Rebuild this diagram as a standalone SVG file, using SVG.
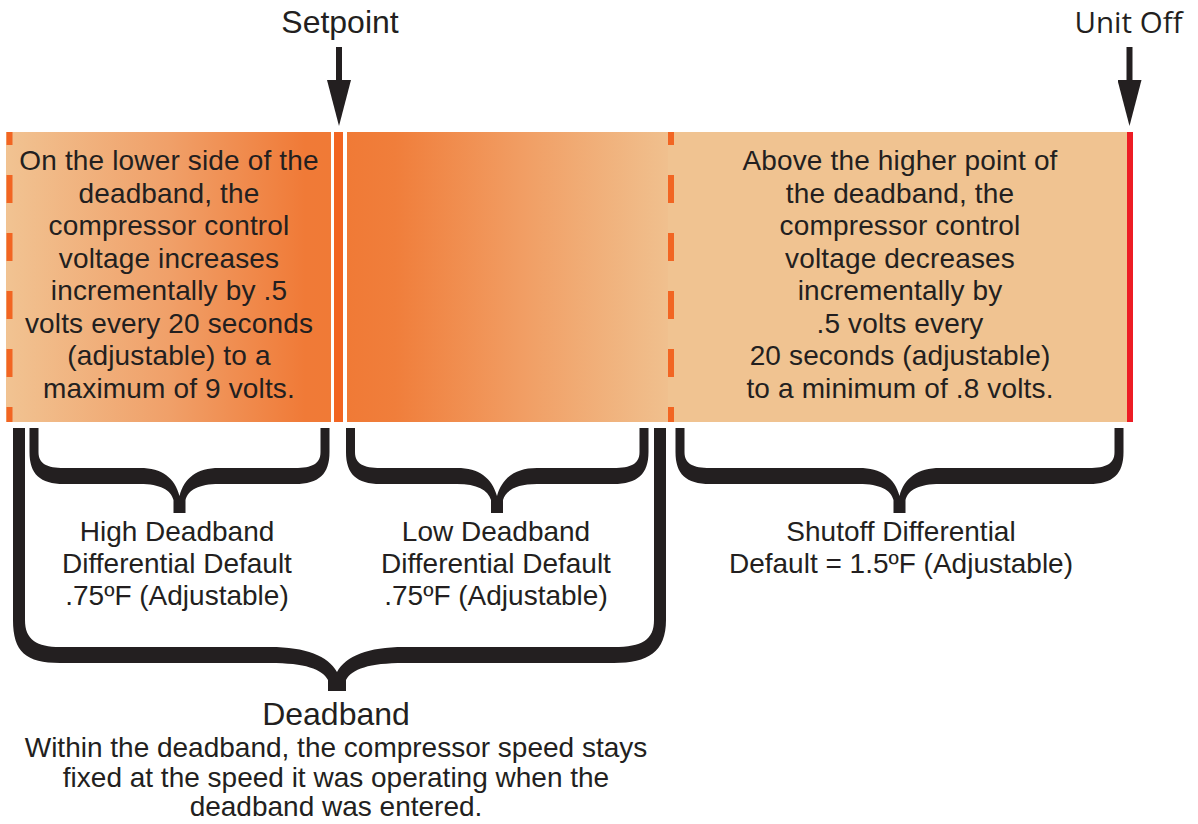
<svg xmlns="http://www.w3.org/2000/svg" width="1198" height="824" viewBox="0 0 1198 824">
<defs>
<linearGradient id="gLeft" x1="6" y1="0" x2="331" y2="0" gradientUnits="userSpaceOnUse">
<stop offset="0" stop-color="#f1c392"/>
<stop offset="0.5" stop-color="#f0a069"/>
<stop offset="0.92" stop-color="#f07a37"/>
<stop offset="1" stop-color="#f07a36"/>
</linearGradient>
<linearGradient id="gMid" x1="347" y1="0" x2="668" y2="0" gradientUnits="userSpaceOnUse">
<stop offset="0" stop-color="#f07a36"/>
<stop offset="0.15" stop-color="#f07e3b"/>
<stop offset="0.55" stop-color="#f19e64"/>
<stop offset="1" stop-color="#f0c08e"/>
</linearGradient>
<marker id="ah" viewBox="0 0 46 24" refX="1" refY="12" markerWidth="46" markerHeight="24" markerUnits="userSpaceOnUse" orient="auto">
<path d="M0,0 L46,12 L0,24 Z" fill="#231f20"/>
</marker>
<style>
.t{font-family:"Liberation Sans",Arial,Helvetica,sans-serif;fill:#231f20;text-anchor:middle}
.bar{font-size:28px;letter-spacing:0.15px}
.lbl{font-size:28px}
.brace{fill:#231f20}
.dash{stroke:#f26522;stroke-width:6;stroke-dasharray:28 30;stroke-dashoffset:15;fill:none}
</style>
</defs>

<g id="bar">
<rect x="6" y="132" width="325" height="290" fill="url(#gLeft)"/>
<rect x="331" y="132" width="16" height="290" fill="#ffffff"/>
<rect x="334" y="132" width="9" height="290" fill="#f26522"/>
<rect x="347" y="132" width="321" height="290" fill="url(#gMid)"/>
<rect x="668" y="132" width="460" height="290" fill="#f0c391"/>
<rect x="1127" y="132" width="6" height="290" fill="#ed1c24"/>
<line class="dash" x1="9.5" y1="132" x2="9.5" y2="422"/>
<line class="dash" x1="671" y1="132" x2="671" y2="422"/>
</g>

<g id="setpoint">
<text class="t" x="340" y="33" font-size="32">Setpoint</text>
</g>
<g id="unit-off">
<text x="1128.5" y="33" font-size="29.5" font-family="'Open Sans','Noto Sans',sans-serif" fill="#231f20" text-anchor="middle">Unit Off</text>
</g>

<g id="left-zone">
<text class="t bar" x="169" y="170">On the lower side of the</text>
<text class="t bar" x="169" y="202.5">deadband, the</text>
<text class="t bar" x="169" y="235">compressor control</text>
<text class="t bar" x="169" y="267.5">voltage increases</text>
<text class="t bar" x="169" y="300">incrementally by .5</text>
<text class="t bar" x="169" y="332.5">volts every 20 seconds</text>
<text class="t bar" x="169" y="365">(adjustable) to a</text>
<text class="t bar" x="169" y="397.5">maximum of 9 volts.</text>
</g>

<g id="right-zone">
<text class="t bar" x="900" y="170">Above the higher point of</text>
<text class="t bar" x="900" y="202.5">the deadband, the</text>
<text class="t bar" x="900" y="235">compressor control</text>
<text class="t bar" x="900" y="267.5">voltage decreases</text>
<text class="t bar" x="900" y="300">incrementally by</text>
<text class="t bar" x="900" y="332.5">.5 volts every</text>
<text class="t bar" x="900" y="365">20 seconds (adjustable)</text>
<text class="t bar" x="900" y="397.5">to a minimum of .8 volts.</text>
</g>

<g id="connectors">
<line x1="339" y1="47" x2="339" y2="81" stroke="#231f20" stroke-width="6" marker-end="url(#ah)"/>
<line x1="1129.5" y1="47" x2="1129.5" y2="81" stroke="#231f20" stroke-width="6" marker-end="url(#ah)"/>
</g>

<g id="brace-high">
<path class="brace" d="M29.5,428 L29.5,452 C29.5,474 40,484 64,484 L140,484 C160,484 171,490 173.5,500 L173.5,513 L185.5,513 L185.5,500 C188,490 199,484 219,484 L295,484 C319,484 329.5,474 329.5,452 L329.5,428 L320.5,428 L320.5,452 C320.5,464 312,468 295,468 L219,468 C197,468 184,478 179.5,496 C175,478 162,468 140,468 L64,468 C47,468 38.5,464 38.5,452 L38.5,428 Z"/>
<text class="t lbl" x="177" y="541">High Deadband</text>
<text class="t lbl" x="177" y="573">Differential Default</text>
<text class="t lbl" x="177" y="605">.75ºF (Adjustable)</text>
</g>

<g id="brace-low">
<path class="brace" d="M346,428 L346,452 C346,474 356.5,484 380.5,484 L457,484 C477,484 488,490 491,500 L491,513 L503,513 L503,500 C506,490 517,484 537,484 L613.5,484 C637.5,484 648.5,474 648.5,452 L648.5,428 L639.5,428 L639.5,452 C639.5,464 631,468 613.5,468 L537,468 C515,468 502,478 497,496 C492,478 479,468 457,468 L380.5,468 C363.5,468 355,464 355,452 L355,428 Z"/>
<text class="t lbl" x="496" y="541">Low Deadband</text>
<text class="t lbl" x="496" y="573">Differential Default</text>
<text class="t lbl" x="496" y="605">.75ºF (Adjustable)</text>
</g>

<g id="brace-shutoff">
<path class="brace" d="M675.5,428 L675.5,452 C675.5,474 686,484 710,484 L859,484 C880,484 891,490 893.5,500 L893.5,513 L905.5,513 L905.5,500 C908,490 919,484 940,484 L1089,484 C1113,484 1123.5,474 1123.5,452 L1123.5,428 L1114.5,428 L1114.5,452 C1114.5,464 1106,468 1089,468 L940,468 C918,468 904,478 899.5,496 C895,478 881,468 859,468 L710,468 C693,468 684.5,464 684.5,452 L684.5,428 Z"/>
<text class="t lbl" x="901" y="541">Shutoff Differential</text>
<text class="t lbl" x="901" y="573">Default = 1.5ºF (Adjustable)</text>
</g>

<g id="brace-deadband">
<path class="brace" d="M13,428 L13,620 C13,652 26,663 60,663 L270,663 C305,663 322,669 328,680 L328,691 L346,691 L346,680 C352,669 369,663 404,663 L614,663 C648,663 666,652 666,620 L666,428 L654,428 L654,620 C654,640 642,647 614,647 L404,647 C368,647 346,656 337,672 C328,656 306,647 270,647 L60,647 C37,647 25,640 25,620 L25,428 Z"/>
<text class="t" x="336" y="725" font-size="32">Deadband</text>
<text class="t" x="336" y="757" font-size="28">Within the deadband, the compressor speed stays</text>
<text class="t" x="336" y="787" font-size="28">fixed at the speed it was operating when the</text>
<text class="t" x="336" y="816" font-size="28">deadband was entered.</text>
</g>
</svg>
